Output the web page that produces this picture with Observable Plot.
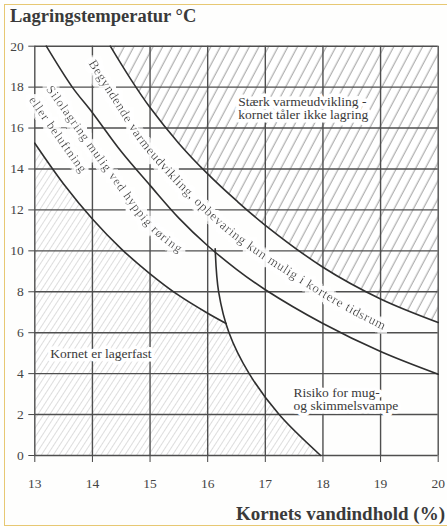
<!DOCTYPE html>
<html><head><meta charset="utf-8">
<script src="https://cdn.jsdelivr.net/npm/d3@7"></script>
<script src="https://cdn.jsdelivr.net/npm/@observablehq/plot@0.6"></script>
<style>
html,body{margin:0;padding:0;background:#fff;}
#page{position:relative;width:447px;height:526px;overflow:hidden;background:#fefefd;font-family:"Liberation Serif","Tinos","Times New Roman","DejaVu Serif",serif;color:#3a3a3a;}
#frame{position:absolute;left:4px;top:4px;width:450px;height:522px;border:1.5px solid #e7c873;box-sizing:border-box;pointer-events:none;}
#title{position:absolute;left:10px;top:7px;font-weight:bold;font-size:18.5px;line-height:1;white-space:nowrap;}
#xtitle{position:absolute;right:2px;top:504px;font-weight:bold;font-size:19px;line-height:1;white-space:nowrap;}
#chart{position:absolute;left:0;top:0;}
</style></head>
<body>
<div id="page">
  <div id="chart"></div>
  <div id="title">Lagringstemperatur °C</div>
  <div id="xtitle">Kornets vandindhold (%)</div>
  <div id="frame"></div>
</div>
<script>
const SERIF = '"Liberation Serif", "Tinos", "Times New Roman", "DejaVu Serif", serif';
// ---- data ----
const xTicks = [13, 14, 15, 16, 17, 18, 19, 20];
const yTicks = [0, 2, 4, 6, 8, 10, 12, 14, 16, 18, 20];

// curve A: limit of "Kornet er lagerfast"
const curveA = [[13, 15.26], [13.5, 13.27], [14, 11.56], [14.5, 10.1], [15, 8.88], [15.5, 7.82], [16, 6.95], [16.32, 6.45]];
// curve B: lower limit of "Begyndende varmeudvikling"
const curveB = [[13.2, 20], [13.65, 18], [14, 16.75], [14.5, 14.85], [15, 13.2], [15.5, 11.6], [16, 10.25], [16.5, 9.1], [17, 8.1], [18, 6.45], [19, 5.08], [20, 3.97]];
// curve C: lower limit of "Stærk varmeudvikling"
const curveC = [[14.31, 20], [14.65, 18.45], [15, 17.0], [15.5, 15.25], [16, 13.76], [16.5, 12.45], [17, 11.25], [18, 9.2], [19, 7.65], [20, 6.5]];
// curve D: mould risk limit
const curveD = [[16.13, 10.1], [16.19, 8.0], [16.37, 6.0], [16.72, 4.0], [17.24, 2.0], [17.96, 0]];

const boxLabels = [
  {text: "Stærk varmeudvikling -\nkornet tåler ikke lagring", x: 16.53, y: 16.98},
  {text: "Kornet er lagerfast", x: 13.27, y: 4.98},
  {text: "Risiko for mug-\nog skimmelsvampe", x: 17.49, y: 2.76}
];
const curvedLabels = [
  {text: "Begyndende varmeudvikling, opbevaring kun mulig i kortere tidsrum", size: 13,
   path: [[14.0, 19.25], [14.43, 17.35], [14.85, 15.5], [15.33, 13.9], [15.84, 12.42], [16.36, 11.07], [16.93, 9.88], [17.5, 8.84], [18.07, 7.84], [18.65, 6.92], [19.18, 6.17]]},
  {text: "Silolagring mulig ved hyppig røring", size: 12.5,
   path: [[13.26, 17.98], [13.71, 16.22], [14.145, 14.51], [14.58, 12.85], [14.98, 11.38], [15.275, 10.6], [15.585, 9.96]]},
  {text: "eller beluftning", size: 12.5,
   path: [[12.96, 17.45], [13.425, 15.59], [13.875, 13.83]]}
];

// ---- helpers ----
const X = d => d[0], Y = d => d[1];
const lastA = curveA[curveA.length - 1];
const underD = [lastA, ...curveD.filter(p => p[0] > lastA[0])];

const defsMark = () => {
  const defs = document.createElementNS("http://www.w3.org/2000/svg", "defs");
  defs.innerHTML = `
    <pattern id="hatchDark" patternUnits="userSpaceOnUse" width="8.5" height="8.5" patternTransform="rotate(28)">
      <rect width="8.5" height="8.5" fill="#ffffff"/>
      <line x1="4" y1="-1" x2="4" y2="9.5" stroke="#8a8a8a" stroke-width="0.85"/>
    </pattern>
    <pattern id="hatchLight" patternUnits="userSpaceOnUse" width="5" height="5" patternTransform="rotate(33)">
      <rect width="5" height="5" fill="#ffffff"/>
      <line x1="2.5" y1="-1" x2="2.5" y2="6" stroke="#d4d4d4" stroke-width="0.8"/>
    </pattern>
    <filter id="halo" filterUnits="userSpaceOnUse" x="0" y="0" width="447" height="500">
      <feMorphology in="SourceAlpha" operator="dilate" radius="3.5" result="grown"/>
      <feFlood flood-color="#ffffff" result="white"/>
      <feComposite in="white" in2="grown" operator="in" result="ring"/>
      <feMerge><feMergeNode in="ring"/><feMergeNode in="SourceGraphic"/></feMerge>
    </filter>`;
  return defs;
};

// curved labels along guide paths; one shared white halo (filter) under all of them
const curvedLabelMark = (index, scales) => {
  const g = d3.create("svg:g").attr("text-anchor", "start").attr("filter", "url(#halo)");
  const line = d3.line().x(d => scales.x(d[0])).y(d => scales.y(d[1])).curve(d3.curveCatmullRom);
  curvedLabels.forEach((it, i) => {
    g.append("path").attr("id", "lp" + i).attr("d", line(it.path)).attr("fill", "none").attr("stroke", "none");
  });
  curvedLabels.forEach((it, i) => {
    g.append("text")
      .attr("class", "curved")
      .attr("data-path", "lp" + i)
      .attr("text-anchor", "start")
      .attr("font-family", SERIF)
      .attr("font-size", it.size)
      .attr("fill", "#3a3a3a")
      .attr("dy", "0.33em")
      .append("textPath").attr("href", "#lp" + i).attr("startOffset", 0).text(it.text);
  });
  return g.node();
};

const lineOpts = {x: X, y: Y, stroke: "#2f2f2f", strokeWidth: 1.6, curve: "catmull-rom"};

const plot = Plot.plot({
  width: 447,
  height: 500,
  marginTop: 45.7,
  marginBottom: 45,
  marginLeft: 34.3,
  marginRight: 9.3,
  style: {fontFamily: SERIF, fontSize: "13.5px", color: "#444", background: "transparent"},
  x: {domain: [13, 20], ticks: xTicks, tickFormat: d => String(d), tickSize: 7, tickPadding: 16, label: null},
  y: {domain: [0, 20], ticks: yTicks, tickFormat: d => String(d), tickSize: 6, tickPadding: 5, label: null},
  marks: [
    defsMark,
    Plot.areaY(curveC, {x: X, y1: Y, y2: 20, fill: "url(#hatchDark)", curve: "catmull-rom"}),
    Plot.areaY(curveA, {x: X, y1: 0, y2: Y, fill: "url(#hatchLight)", curve: "catmull-rom"}),
    Plot.areaY(underD, {x: X, y1: 0, y2: Y, fill: "url(#hatchLight)", curve: "catmull-rom"}),
    Plot.ruleX(xTicks, {stroke: "#4f4f4f", strokeWidth: 1.4}),
    Plot.ruleY(yTicks, {stroke: "#4f4f4f", strokeWidth: 1.4}),
    Plot.text(boxLabels, {x: "x", y: "y", text: "text", textAnchor: "start", lineAnchor: "middle", lineHeight: 0.98,
      fontSize: 13.5, fill: "#3a3a3a", stroke: "#ffffff", strokeWidth: 7, paintOrder: "stroke"}),
    curvedLabelMark,
    Plot.line(curveA, lineOpts),
    Plot.line(curveB, lineOpts),
    Plot.line(curveC, lineOpts),
    Plot.line(curveD, lineOpts)
  ]
});
document.getElementById("chart").appendChild(plot);

// spread the curved labels along the length of their guide paths
document.querySelectorAll("text.curved").forEach(t => {
  const p = document.getElementById(t.getAttribute("data-path"));
  const L = p.getTotalLength();
  t.setAttribute("letter-spacing", 0);
  const natural = t.getComputedTextLength();
  const n = t.textContent.length;
  if (L > 0 && natural > 0 && n > 1) {
    t.setAttribute("letter-spacing", ((L * 0.985 - natural) / (n - 1)).toFixed(3));
  }
});
</script>
</body></html>
